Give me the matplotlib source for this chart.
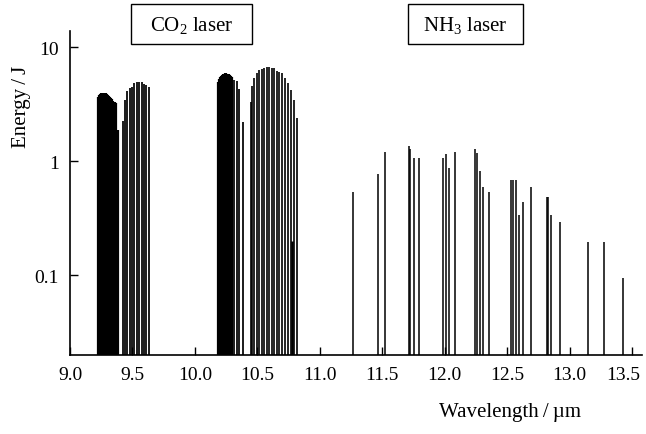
import matplotlib
matplotlib.use("Agg")
import matplotlib.pyplot as plt
from matplotlib.patches import Rectangle
from matplotlib.transforms import ScaledTranslation

plt.rcParams['font.family'] = ['Liberation Serif', 'DejaVu Serif']
plt.rcParams['mathtext.fontset'] = 'custom'
plt.rcParams['mathtext.rm'] = 'Liberation Serif'
plt.rcParams['mathtext.it'] = 'Liberation Serif:italic'

# CO2 laser lines (wavelength in um, energy in J)
co2_9r_wl = [9.224, 9.232, 9.240, 9.248, 9.256, 9.264, 9.272, 9.280, 9.288, 9.296,
             9.304, 9.312, 9.320, 9.328, 9.336, 9.344, 9.352, 9.360, 9.366, 9.384]
co2_9r_e = [3.70, 3.80, 3.90, 3.95, 3.97, 3.99, 4.00, 3.98, 3.95, 3.90,
            3.85, 3.78, 3.70, 3.60, 3.50, 3.42, 3.35, 3.30, 3.25, 1.90]
co2_9p_wl = [9.422, 9.440, 9.458, 9.478, 9.496, 9.514, 9.534, 9.552, 9.574, 9.592, 9.610, 9.630]
co2_9p_e = [2.24, 3.47, 4.16, 4.40, 4.50, 4.85, 4.96, 4.96, 4.96, 4.79, 4.69, 4.45]
co2_10r_wl = [10.184, 10.192, 10.200, 10.208, 10.216, 10.224, 10.232, 10.240, 10.248, 10.256,
              10.264, 10.272, 10.280, 10.288, 10.296]
co2_10r_e = [5.00, 5.30, 5.50, 5.65, 5.75, 5.85, 5.90, 5.95, 5.95, 5.90,
             5.90, 5.80, 5.70, 5.60, 5.50]
co2_10r_tail_wl = [10.316, 10.336, 10.356, 10.384]
co2_10r_tail_e = [5.20, 5.10, 4.30, 2.20]
co2_10p_wl = [10.446, 10.458, 10.474, 10.494, 10.514, 10.534, 10.554, 10.574, 10.592, 10.614,
              10.634, 10.656, 10.672, 10.694, 10.718, 10.742, 10.766, 10.790, 10.814]
co2_10p_e = [3.35, 4.54, 5.37, 5.94, 6.35, 6.45, 6.58, 6.67, 6.67, 6.58,
             6.58, 6.22, 6.06, 5.94, 5.37, 4.92, 4.25, 3.47, 2.40]
co2_weak_wl = [10.779]
co2_weak_e = [0.20]

# NH3 laser lines
nh3_wl = [11.262, 11.467, 11.525, 11.713, 11.726, 11.752, 11.795, 11.987, 12.010, 12.035,
          12.082, 12.246, 12.259, 12.283, 12.307, 12.355, 12.533, 12.546, 12.568, 12.592,
          12.627, 12.688, 12.819, 12.827, 12.853, 12.925, 13.149, 13.272, 13.427]
nh3_e = [0.54, 0.78, 1.21, 1.37, 1.28, 1.07, 1.07, 1.07, 1.17, 0.875,
         1.21, 1.28, 1.18, 0.82, 0.59, 0.54, 0.68, 0.68, 0.68, 0.34,
         0.44, 0.59, 0.49, 0.49, 0.34, 0.295, 0.195, 0.195, 0.094]

xticks = [9.0, 9.5, 10.0, 10.5, 11.0, 11.5, 12.0, 12.5, 13.0, 13.5]
xticklabels = ['9.0', '9.5', '10.0', '10.5', '11.0', '11.5', '12.0', '12.5', '13.0', '13.5']
yticks = [0.1, 1, 10]
yticklabels = ['0.1', '1', '10']

ymin = 0.02

fig = plt.figure(figsize=(6.46, 4.35), dpi=100)
ax = fig.add_axes([0.1084, 0.1816, 0.8854, 0.7454])

# dense branches merge into solid blocks, the others keep thin gaps
ax.vlines(co2_9r_wl, ymin, co2_9r_e, colors='black', linewidth=1.6)
ax.vlines(co2_10r_wl, ymin, co2_10r_e, colors='black', linewidth=1.6)
ax.vlines(co2_9p_wl, ymin, co2_9p_e, colors='black', linewidth=1.25)
ax.vlines(co2_10r_tail_wl, ymin, co2_10r_tail_e, colors='black', linewidth=1.25)
ax.vlines(co2_10p_wl, ymin, co2_10p_e, colors='black', linewidth=1.2)
ax.vlines(co2_weak_wl, ymin, co2_weak_e, colors='black', linewidth=1.8)
ax.vlines(nh3_wl, ymin, nh3_e, colors='black', linewidth=1.1)

ax.set_yscale('log')
ax.set_ylim(ymin, 14)
ax.set_xlim(9.0, 13.58)
ax.set_yticks(yticks)
ax.set_yticklabels(yticklabels)
ax.minorticks_off()
ax.set_xticks(xticks)
ax.set_xticklabels(xticklabels)
ax.tick_params(direction='in', length=6, width=1.0, labelsize=14, pad=8)

# last label would run off the edge, nudge it left a little
last = ax.get_xticklabels()[-1]
last.set_transform(last.get_transform() + ScaledTranslation(-0.09, 0, fig.dpi_scale_trans))

ax.spines['top'].set_visible(False)
ax.spines['right'].set_visible(False)
ax.spines['left'].set_linewidth(1.2)
ax.spines['bottom'].set_linewidth(1.2)

fig.text(0.034, 0.755, 'Energy\u2009/\u2009J', rotation=90, ha='center', va='center', fontsize=15)
fig.text(0.79, 0.052, 'Wavelength\u2009/\u2009\u00b5m', ha='center', va='center', fontsize=15)

# label boxes
for cx, w, label in [(0.296, 0.187, 'CO$_2$ laser'), (0.7203, 0.1776, 'NH$_3$ laser')]:
    fig.patches.append(Rectangle((cx - w / 2, 0.8966), w, 0.092, transform=fig.transFigure,
                                 fill=False, edgecolor='black', linewidth=1.0))
    fig.text(cx, 0.9425, label, ha='center', va='center', fontsize=15)

fig.savefig('out.png', dpi=100)
